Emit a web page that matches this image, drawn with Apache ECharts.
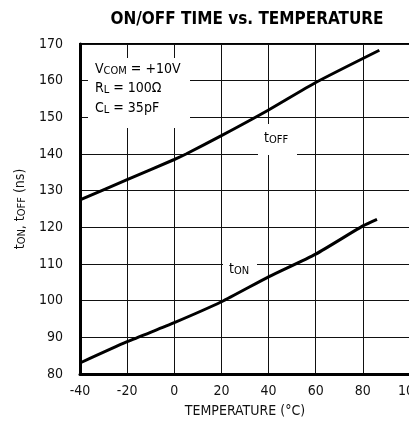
<!DOCTYPE html>
<html>
<head>
<meta charset="utf-8">
<script src="https://cdn.jsdelivr.net/npm/echarts@6/dist/echarts.min.js"></script>
<style>
  html, body { margin: 0; padding: 0; background: #fff; }
  #chart { width: 409px; height: 432px; }
</style>
</head>
<body>
<div id="chart"></div>
<script>
// values
const tOffTemp = [-40, -20, 0, 5, 20, 40, 60, 87];
const tOffNs = [127.5, 133, 138.5, 140, 145, 152, 159.5, 168.3];
const tOnTemp = [-40, -20, 0, 20, 40, 60, 80, 86];
const tOnNs = [83, 88.8, 94, 99.7, 106.5, 112.7, 120.4, 122.2];

const FONT = "'Liberation Sans Narrow', 'DejaVu Sans Condensed', sans-serif";

const pairs = (xs, ys) => xs.map((x, i) => [x, ys[i]]);

const sub = {
  n: { fontSize: 14, fontFamily: FONT, color: '#111' },
  s: { fontSize: 11, fontFamily: FONT, color: '#111', padding: [5, 0, 0, 0] }
};

const chart = echarts.init(document.getElementById('chart'));

chart.setOption({
  animation: false,
  title: {
    text: 'ON/OFF TIME vs. TEMPERATURE',
    left: 242,
    top: 6,
    textAlign: 'center',
    textStyle: { fontFamily: FONT, fontWeight: 'bold', fontSize: 17, color: '#000' }
  },
  grid: {
    left: 80, top: 44, right: -1, bottom: 58,
    outerBoundsMode: 'none',
    show: true, borderColor: '#000', borderWidth: 2
  },
  xAxis: {
    type: 'value',
    min: -40, max: 100, interval: 20,
    name: 'TEMPERATURE (°C)',
    nameLocation: 'middle',
    nameGap: 30,
    nameTextStyle: { fontFamily: FONT, fontSize: 14, color: '#111' },
    axisLine: { onZero: false, lineStyle: { color: '#000', width: 3 } },
    axisTick: { show: false },
    axisLabel: { fontFamily: FONT, fontSize: 14, color: '#111', margin: 10 },
    splitLine: { lineStyle: { color: '#111', width: 1 } }
  },
  yAxis: {
    type: 'value',
    min: 80, max: 170, interval: 10,
    name: '{n|t}{s|ON}{n|, t}{s|OFF}{n| (ns)}',
    nameLocation: 'middle',
    nameGap: 52,
    nameTextStyle: { rich: sub },
    axisLine: { onZero: false, lineStyle: { color: '#000', width: 3 } },
    axisTick: { show: false },
    axisLabel: { fontFamily: FONT, fontSize: 14, color: '#111', margin: 17 },
    splitLine: { lineStyle: { color: '#111', width: 1 } }
  },
  graphic: [
    {
      type: 'rect', z: 1,
      shape: { x: 88, y: 58, width: 102, height: 70 },
      style: { fill: '#fff' }
    },
    {
      type: 'text', z: 2, left: 95, top: 62,
      style: { text: '{n|V}{s|COM}{n| = +10V}', rich: sub }
    },
    {
      type: 'text', z: 2, left: 95, top: 81,
      style: { text: '{n|R}{s|L}{n| = 100Ω}', rich: sub }
    },
    {
      type: 'text', z: 2, left: 95, top: 101,
      style: { text: '{n|C}{s|L}{n| = 35pF}', rich: sub }
    },
    {
      type: 'rect', z: 1,
      shape: { x: 258, y: 124, width: 39, height: 31 },
      style: { fill: '#fff' }
    },
    {
      type: 'text', z: 2, left: 264, top: 131,
      style: { text: '{n|t}{s|OFF}', rich: sub }
    },
    {
      type: 'rect', z: 1,
      shape: { x: 223, y: 263, width: 34, height: 24 },
      style: { fill: '#fff' }
    },
    {
      type: 'text', z: 2, left: 229, top: 262,
      style: { text: '{n|t}{s|ON}', rich: sub }
    }
  ],
  series: [
    {
      name: 'tOFF', type: 'line', z: 3,
      data: pairs(tOffTemp, tOffNs),
      showSymbol: false,
      smooth: 0.2,
      lineStyle: { color: '#000', width: 3 }
    },
    {
      name: 'tON', type: 'line', z: 3,
      data: pairs(tOnTemp, tOnNs),
      showSymbol: false,
      smooth: 0.2,
      lineStyle: { color: '#000', width: 3 }
    }
  ]
});
</script>
</body>
</html>
